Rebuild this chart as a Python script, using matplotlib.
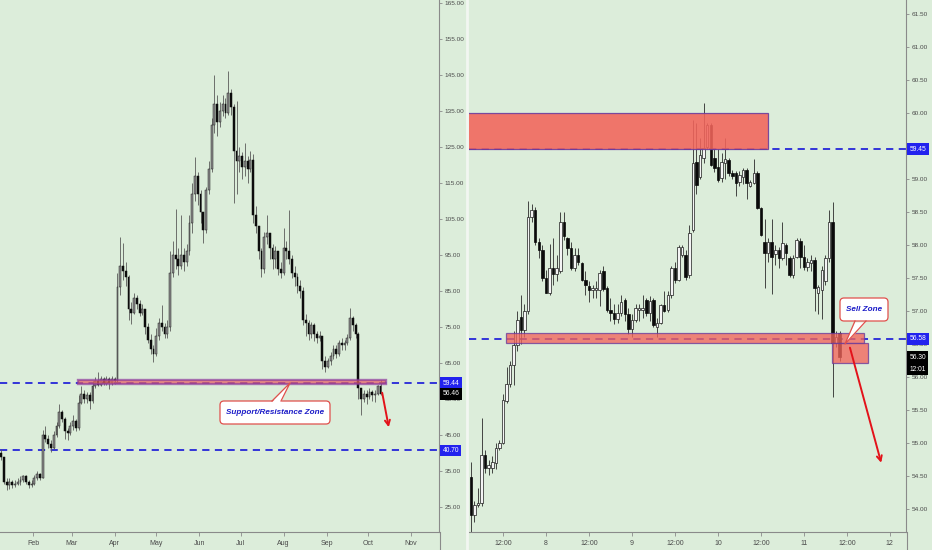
import numpy as np
import matplotlib
matplotlib.use('Agg')
import matplotlib.pyplot as plt
from matplotlib.patches import Rectangle, Polygon, FancyBboxPatch
from matplotlib.lines import Line2D
from matplotlib.transforms import IdentityTransform

# ---------------- LEFT PANEL DATA (2-day candles) ----------------
left_first_day = 8
left_first_open = 40.0
left_close = [39, 32, 31, 32, 31, 31.5, 32, 32.5, 33.5, 32, 31, 31.5, 33, 34.3, 33,
              45, 44, 42.5, 41.5, 45, 47.5, 51.5, 49.5, 46, 45.5, 47.5, 49, 47,
              54, 56.5, 55, 56, 54.5, 58.5, 60, 59, 60.5, 59.5, 60.5, 59.5, 60.5, 60,
              86, 92, 90.5, 89, 80, 79, 83, 81.5, 79, 80, 75, 71.5, 69, 67.5, 72.5, 76,
              75, 73, 75, 90, 95, 94, 92, 95, 93, 96, 104, 112, 117, 112, 107, 102,
              113, 119, 131, 137, 132, 135, 137, 134.5, 140, 136, 124, 121, 122.5,
              119.5, 121, 119, 121.5, 106, 103, 96, 91, 100, 101, 97, 94, 96, 91, 90,
              97, 96, 94, 90, 89, 86.5, 85, 77, 76, 73, 75.5, 73, 72, 72.5, 65.5, 64,
              65.5, 67, 69, 67.5, 70.5, 70, 70.5, 72, 77.5, 75.5, 73, 58, 55, 56.5,
              55.5, 57, 56, 56.5, 58.5, 56.46]
left_high = [41, 39, 33, 33, 32.5, 32.5, 33, 33.5, 34, 33.8, 32.5, 32.5, 34, 35, 34.5,
             46.5, 47.5, 45, 43.5, 46, 48.5, 53.7, 52, 50, 47, 48.5, 50.5, 49.5,
             56, 58.6, 57.5, 57, 57, 60, 61, 62.5, 61.5, 61, 61.5, 61, 61.5, 61,
             90, 100, 98.4, 93, 89.5, 82, 84.5, 84, 82.5, 81.5, 78, 76, 73, 70, 74.7, 77.5,
             81, 76, 77, 96, 99, 107.8, 97, 106, 97, 98, 106, 115, 122.3, 118, 113, 106,
             114, 121, 133, 145, 139.5, 137.5, 139.5, 138.5, 146, 141, 137, 137.9, 125,
             123.5, 126, 122.5, 124, 123, 108.5, 103, 97, 101.5, 106, 101, 98, 97.5, 96, 93,
             102.6, 99, 107.5, 95, 92, 90, 88, 86, 78.5, 77, 76.5, 76, 74, 74, 72, 67,
             66.5, 68, 70, 70, 71.5, 72, 71.5, 73, 80.4, 78, 76, 73.5, 58, 57.5,
             57.5, 58, 57.5, 57.5, 59, 60.3]
left_low = [38, 31.5, 29.8, 30, 30.2, 30.5, 31, 31.2, 32, 31.5, 30.2, 30.5, 31, 32.5, 32.5,
            33, 43, 41.5, 40.3, 41, 44.5, 47, 48.5, 44, 43.5, 45, 46.5, 46,
            46.5, 53.5, 54, 54, 52.3, 54, 58, 58.5, 58.5, 58.8, 59, 57.8, 59, 59.3,
            59.5, 84, 88, 86.5, 77, 75.8, 78.5, 80, 78, 78.4, 73, 70.5, 67.4, 65.3, 67, 71.5,
            73.8, 72, 72, 74, 89, 91, 89.5, 91, 90.5, 92, 95, 101, 110, 109, 104, 98.3,
            101, 112, 118, 129, 128, 130.5, 133.5, 133, 134, 134, 109.5, 112, 118,
            116, 117, 115, 118, 104, 101, 94, 89, 90, 98, 94, 91, 91.5, 89.5, 88.5,
            89.5, 94, 92.5, 88.5, 86.5, 84.5, 83, 75.5, 72.5, 71.5, 72, 71, 70.5, 71, 63.4, 62.5,
            63.5, 64.5, 66, 66.5, 67, 68.5, 68.5, 70, 71.5, 74, 72, 55, 50.6, 54.3,
            53.5, 55, 54.5, 54.3, 56, 56]
left_month_days = [31, 59, 90, 120, 151, 181, 212, 243, 273, 304]
left_month_labels = ['Feb', 'Mar', 'Apr', 'May', 'Jun', 'Jul', 'Aug', 'Sep', 'Oct', 'Nov']
left_yticks = [25, 35, 45, 55, 65, 75, 85, 95, 105, 115, 125, 135, 145, 155, 165]
left_levels = [59.44, 40.70]
left_last = 56.46

# ---------------- RIGHT PANEL DATA (hourly candles) ----------------
right_first_hour = 3
right_open = [54.49, 53.91, 54.06, 54.09, 54.82, 54.62, 54.62, 54.70, 54.92, 55.00,
              55.63, 55.89, 56.18, 56.49, 56.91, 56.71, 57.00, 58.43, 58.53, 58.05,
              57.92, 57.50, 57.27, 57.65, 57.56, 57.60, 58.35, 58.10, 57.95, 57.65,
              57.85, 57.72, 57.47, 57.38, 57.32, 57.32, 57.32, 57.60, 57.35, 57.02,
              56.97, 56.88, 56.97, 57.16, 56.95, 56.72, 56.86, 57.02, 57.02, 57.17,
              56.97, 57.17, 56.76, 56.82, 57.09, 57.02, 57.24, 57.65, 57.47, 57.85,
              57.85, 57.55, 58.23, 59.26, 59.03, 59.32, 59.49, 59.82, 59.32, 59.18,
              59.02, 59.25, 59.29, 59.09, 59.09, 58.95, 59.03, 59.14, 58.90, 58.94,
              59.09, 58.56, 58.05, 57.88, 58.05, 57.87, 57.92, 57.80, 58.00, 57.80,
              57.55, 57.82, 58.06, 57.82, 57.67, 57.72, 57.77, 57.27, 57.32, 57.45,
              57.80, 58.35, 56.52, 56.67]
right_high = [54.72, 54.12, 54.32, 55.38, 54.90, 54.75, 54.80, 55.00, 55.05, 55.75,
              56.15, 56.25, 56.70, 57.00, 57.25, 57.10, 58.66, 58.62, 58.58, 58.10,
              58.00, 57.62, 58.02, 58.10, 57.85, 58.50, 58.50, 58.12, 58.05, 57.95,
              57.95, 57.75, 57.60, 57.45, 57.40, 57.45, 57.62, 57.68, 57.38, 57.20,
              57.10, 57.10, 57.25, 57.20, 57.05, 56.95, 57.10, 57.10, 57.25, 57.20,
              57.22, 57.20, 56.90, 57.10, 57.30, 57.30, 57.68, 57.75, 58.00, 58.00,
              57.92, 58.30, 59.90, 59.85, 59.62, 60.15, 59.85, 59.85, 59.45, 59.45,
              59.40, 59.62, 59.32, 59.14, 59.12, 59.12, 59.16, 59.16, 58.98, 59.30,
              59.12, 58.58, 58.40, 58.10, 58.40, 58.00, 57.97, 58.35, 58.03, 57.83,
              57.85, 58.10, 58.10, 58.00, 57.80, 57.85, 57.82, 57.40, 57.68, 57.85,
              58.53, 58.65, 56.70, 56.70]
right_low = [53.64, 53.80, 54.03, 54.05, 54.55, 54.52, 54.55, 54.60, 54.90, 54.98,
             55.60, 55.85, 55.88, 56.40, 56.50, 56.60, 56.95, 58.35, 58.00, 57.80,
             57.45, 57.27, 57.25, 57.40, 57.45, 57.58, 58.08, 57.85, 57.62, 57.60,
             57.70, 57.45, 57.25, 57.13, 57.20, 57.20, 57.07, 57.30, 56.98, 56.85,
             56.80, 56.82, 56.93, 56.85, 56.65, 56.60, 56.83, 56.85, 56.90, 56.93,
             56.85, 56.76, 56.60, 56.80, 56.98, 56.98, 57.20, 57.43, 57.45, 57.82,
             57.47, 57.50, 58.20, 58.78, 59.00, 59.25, 59.45, 59.20, 59.10, 58.95,
             58.95, 59.00, 59.05, 59.00, 58.75, 58.90, 58.93, 58.70, 58.88, 58.92,
             58.54, 58.13, 57.35, 57.75, 57.26, 57.70, 57.65, 57.78, 57.70, 57.52,
             57.50, 57.80, 57.65, 57.62, 57.60, 57.60, 57.00, 56.95, 56.88, 57.40,
             57.75, 55.69, 56.45, 56.25]
right_close = [53.91, 54.06, 54.09, 54.82, 54.62, 54.67, 54.72, 54.92, 55.00, 55.65,
               55.89, 56.18, 56.49, 56.86, 56.71, 57.00, 58.43, 58.53, 58.05, 57.92,
               57.50, 57.27, 57.65, 57.56, 57.65, 58.35, 58.13, 57.95, 57.65, 57.85,
               57.75, 57.47, 57.40, 57.32, 57.35, 57.35, 57.57, 57.34, 57.02, 56.97,
               56.88, 56.97, 57.14, 56.95, 56.72, 56.86, 57.05, 57.05, 57.05, 56.97,
               57.15, 56.79, 56.82, 57.09, 57.00, 57.24, 57.65, 57.47, 57.97, 57.97,
               57.52, 58.18, 59.24, 58.91, 59.36, 59.47, 59.82, 59.21, 59.17, 58.98,
               59.26, 59.30, 59.09, 59.05, 58.94, 59.06, 59.14, 58.94, 58.95, 59.09,
               58.56, 58.15, 57.88, 58.05, 57.82, 57.92, 57.80, 58.03, 57.88, 57.55,
               57.80, 58.08, 57.82, 57.67, 57.75, 57.77, 57.35, 57.36, 57.62, 57.80,
               58.35, 56.52, 56.60, 56.30]
right_tick_hours = [12, 24, 36, 48, 60, 72, 84, 96, 108, 120]
right_tick_labels = ['12:00', '8', '12:00', '9', '12:00', '10', '12:00', '11', '12:00', '12']
right_yticks = [54.0, 54.5, 55.0, 55.5, 56.0, 56.5, 57.0, 57.5, 58.0, 58.5,
                59.0, 59.5, 60.0, 60.5, 61.0, 61.5]
right_hidden_ticks = [59.5]          # fully covered by the 59.45 price label
right_levels = [59.45, 56.58]
right_last = 56.30
right_countdown = '12:01'

# ---------------- STYLE ----------------
BG = '#dcedda'
AXIS_C = '#8a8a8a'
TICK_C = '#4a4a4a'
BLUE = '#2626d8'
LABEL_BLUE = '#2222ee'
ZONE_FILL = '#f2645b'
ZONE_EDGE = '#6a3b9c'
BAND_EDGE = '#8e3a9c'
ARROW_RED = '#e3121a'
CALL_EDGE = '#e0504c'
CALL_TEXT = '#1c1cc8'
FONT = ['Liberation Sans', 'DejaVu Sans']
plt.rcParams['font.family'] = FONT

W, H = 932, 550
fig = plt.figure(figsize=(W / 100, H / 100), dpi=100, facecolor=BG)
bottom = 18 / H
height = 532 / H
axL = fig.add_axes([0, bottom, 439 / W, height])
axR = fig.add_axes([469 / W, bottom, 437 / W, height])

for ax in (axL, axR):
    ax.set_facecolor(BG)
    for s in ('top', 'left'):
        ax.spines[s].set_visible(False)
    for s in ('right', 'bottom'):
        ax.spines[s].set_color(AXIS_C)
        ax.spines[s].set_linewidth(0.8)
    ax.yaxis.tick_right()
    ax.tick_params(axis='y', which='both', length=2, width=0.6, color=AXIS_C,
                   pad=2, labelsize=4.6, labelcolor=TICK_C)
    ax.tick_params(axis='x', which='both', length=3, width=0.6, color=AXIS_C,
                   pad=3, labelsize=5, labelcolor=TICK_C)


def draw_candles(ax, x, o, h, l, c, width, wick_c, up_fc, up_ec, dn_c, wick_lw, edge_lw):
    x = np.asarray(x, float)
    o = np.asarray(o, float); h = np.asarray(h, float)
    l = np.asarray(l, float); c = np.asarray(c, float)
    ax.vlines(x, l, h, color=wick_c, lw=wick_lw, zorder=2)
    up = c >= o
    lo = np.minimum(o, c)
    hi = np.maximum(o, c)
    ax.bar(x[up], (hi - lo)[up], bottom=lo[up], width=width, color=up_fc,
           edgecolor=up_ec, linewidth=edge_lw, zorder=3)
    ax.bar(x[~up], (hi - lo)[~up], bottom=lo[~up], width=width, color=dn_c,
           edgecolor=dn_c, linewidth=edge_lw, zorder=3)


def callout(box, base, tip, text, fontsize):
    """Rounded white callout with a pointer, given in image pixels (top-left origin)."""
    x0, y0, x1, y1 = box
    ident = IdentityTransform()
    fig.add_artist(FancyBboxPatch((x0, H - y1), x1 - x0, y1 - y0,
                                  boxstyle='round,pad=0,rounding_size=4',
                                  transform=ident, fc='white', ec=CALL_EDGE,
                                  lw=0.9, zorder=5))
    (bx0, by), (bx1, _) = base
    tx, ty = tip
    fig.add_artist(Polygon([(bx0, H - by - 1.5), (tx, H - ty), (bx1, H - by - 1.5)],
                           closed=True, transform=ident, fc='white', ec='none',
                           zorder=6))
    fig.add_artist(Line2D([bx0, tx, bx1], [H - by, H - ty, H - by], transform=ident,
                          color=CALL_EDGE, lw=0.9, zorder=7))
    fig.text((x0 + x1) / 2, H - (y0 + y1) / 2, text, transform=ident,
             ha='center', va='center', fontsize=fontsize, fontweight='bold',
             fontstyle='italic', color=CALL_TEXT, zorder=8)


# ---------------- LEFT PANEL ----------------
nL = len(left_close)
lx = left_first_day + 2 * np.arange(nL)
lo_open = [left_first_open] + left_close[:-1]
axL.set_xlim(7.2, 324.2)
axL.set_ylim(18.06, 165.83)
for lv in left_levels:
    axL.axhline(lv, color=BLUE, lw=1.3, ls=(0, (4, 3)), zorder=1)
draw_candles(axL, lx, lo_open, left_high, left_low, left_close, 1.35,
             '#5a5a5a', '#8c8c8c', '#1e1e1e', '#0c0c0c', 0.6, 0.35)
axL.set_yticks(left_yticks)
axL.set_yticklabels([f'{v:.2f}' for v in left_yticks])
axL.set_xticks(left_month_days)
axL.set_xticklabels(left_month_labels)

# support / resistance band
axL.add_patch(Rectangle((63.5, 59.05), 285.9 - 63.5, 60.25 - 59.05,
                        facecolor=ZONE_FILL, alpha=0.7, edgecolor=BAND_EDGE,
                        lw=1.7, zorder=4))

# arrow
axL.annotate('', xy=(288.3, 46.4), xytext=(282.8, 57.5),
             arrowprops=dict(arrowstyle='->', color=ARROW_RED, lw=1.4,
                             mutation_scale=9), zorder=9)

# price labels
ytL = axL.get_yaxis_transform()
for val, fc in ((left_levels[0], LABEL_BLUE), (left_last, '#000000'),
                (left_levels[1], LABEL_BLUE)):
    axL.text(1.008, val, f'{val:.2f}', transform=ytL, ha='left', va='center',
             fontsize=4.8, color='white', clip_on=False, zorder=10,
             bbox=dict(boxstyle='square,pad=0.35', fc=fc, ec='none'))

# ---------------- RIGHT PANEL ----------------
nR = len(right_close)
rx = right_first_hour + np.arange(nR)
axR.set_xlim(2.51, 124.5)
axR.set_ylim(53.652, 61.712)
for lv in right_levels:
    axR.axhline(lv, color=BLUE, lw=1.3, ls=(0, (4, 3)), zorder=1)
draw_candles(axR, rx, right_open, right_high, right_low, right_close, 0.7,
             '#2a2a2a', '#f4f4f4', '#1a1a1a', '#0a0a0a', 0.6, 0.5)
axR.set_yticks(right_yticks)
axR.set_yticklabels(['' if v in right_hidden_ticks else f'{v:.2f}' for v in right_yticks])
axR.set_xticks(right_tick_hours)
axR.set_xticklabels(right_tick_labels)

# zones
axR.add_patch(Rectangle((1.0, 59.45), 86.0 - 1.0, 60.0 - 59.45,
                        facecolor=ZONE_FILL, alpha=0.88, edgecolor=ZONE_EDGE,
                        lw=0.9, zorder=4))
axR.add_patch(Rectangle((12.84, 56.515), 112.75 - 12.84, 56.67 - 56.515,
                        facecolor=ZONE_FILL, alpha=0.78, edgecolor=ZONE_EDGE,
                        lw=0.9, zorder=4))
axR.add_patch(Rectangle((103.8, 56.215), 113.9 - 103.8, 56.515 - 56.215,
                        facecolor=ZONE_FILL, alpha=0.78, edgecolor=ZONE_EDGE,
                        lw=0.9, zorder=4))

# arrow
axR.annotate('', xy=(117.78, 54.66), xytext=(108.65, 56.485),
             arrowprops=dict(arrowstyle='->', color=ARROW_RED, lw=1.4,
                             mutation_scale=9), zorder=9)

# price labels
ytR = axR.get_yaxis_transform()
for val, txt, fc in ((right_levels[0], f'{right_levels[0]:.2f}', LABEL_BLUE),
                     (right_levels[1], f'{right_levels[1]:.2f}', LABEL_BLUE),
                     (right_last, f'{right_last:.2f}', '#000000'),
                     (56.12, right_countdown, '#000000')):
    axR.text(1.008, val, txt, transform=ytR, ha='left', va='center',
             fontsize=4.8, color='white', clip_on=False, zorder=10,
             bbox=dict(boxstyle='square,pad=0.35', fc=fc, ec='none'))

# ---------------- CALLOUTS (image pixel positions) ----------------
callout((220, 401, 330, 424), ((272, 401), (281, 401)), (290, 383),
        'Support/Resistance Zone', 5.9)
callout((840, 298, 888, 321), ((855, 321), (866, 321)), (845, 344),
        'Sell Zone', 5.9)

# axis lines extended to the bottom edge, panel divider
for xp in (439.5, 906.5):
    fig.add_artist(Line2D([xp / W, xp / W], [0, bottom], color=AXIS_C, lw=0.8,
                          transform=fig.transFigure))
fig.add_artist(Line2D([467 / W, 467 / W], [0, 1], color='#f2f6f1', lw=2,
                      transform=fig.transFigure))

fig.savefig('out.png', dpi=100, facecolor=BG)
